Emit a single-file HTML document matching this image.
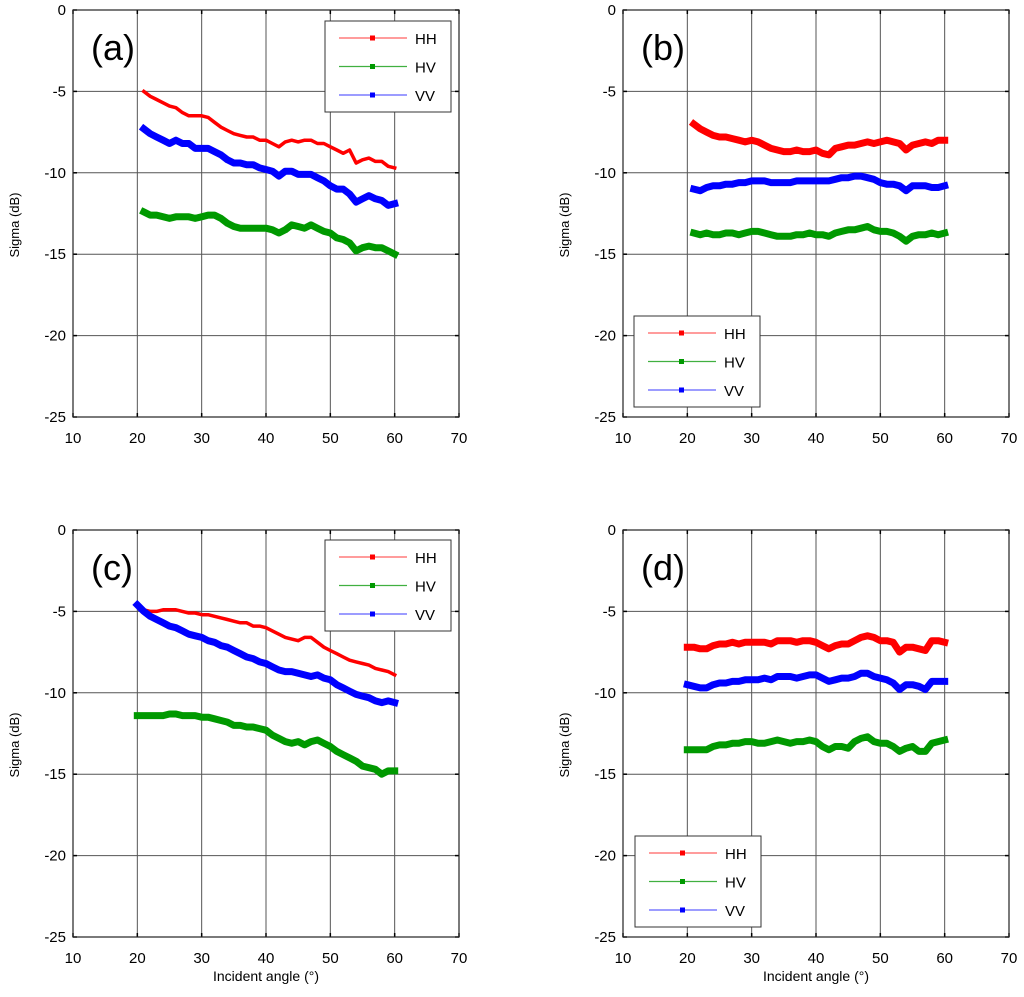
<!DOCTYPE html>
<html><head><meta charset="utf-8"><style>
html,body{margin:0;padding:0;background:#fff;}
svg{display:block;font-family:"Liberation Sans",Arial,sans-serif;}
</style></head><body>
<svg id="fig" width="1024" height="997" viewBox="0 0 1024 997" xmlns="http://www.w3.org/2000/svg"></svg>
<script>
const xTicks=[10,20,30,40,50,60,70];
const yTicks=[0,-5,-10,-15,-20,-25];
const xA=[21,22,23,24,25,26,27,28,29,30,31,32,33,34,35,36,37,38,39,40,41,42,43,44,45,46,47,48,49,50,51,52,53,54,55,56,57,58,59,60];
const xC=[20].concat(xA);
const aHH=[-5.0,-5.3,-5.5,-5.7,-5.9,-6.0,-6.3,-6.5,-6.5,-6.5,-6.6,-6.9,-7.2,-7.4,-7.6,-7.7,-7.8,-7.8,-8.0,-8.0,-8.2,-8.4,-8.1,-8.0,-8.1,-8.0,-8.0,-8.2,-8.2,-8.4,-8.6,-8.8,-8.6,-9.4,-9.2,-9.1,-9.3,-9.3,-9.6,-9.7];
const aVV=[-7.3,-7.6,-7.8,-8.0,-8.2,-8.0,-8.2,-8.2,-8.5,-8.5,-8.5,-8.7,-8.9,-9.2,-9.4,-9.4,-9.5,-9.5,-9.7,-9.8,-9.9,-10.2,-9.9,-9.9,-10.1,-10.1,-10.1,-10.3,-10.5,-10.8,-11.0,-11.0,-11.3,-11.8,-11.6,-11.4,-11.6,-11.7,-12.0,-11.9];
const aHV=[-12.4,-12.6,-12.6,-12.7,-12.8,-12.7,-12.7,-12.7,-12.8,-12.7,-12.6,-12.6,-12.8,-13.1,-13.3,-13.4,-13.4,-13.4,-13.4,-13.4,-13.5,-13.7,-13.5,-13.2,-13.3,-13.4,-13.2,-13.4,-13.6,-13.7,-14.0,-14.1,-14.3,-14.8,-14.6,-14.5,-14.6,-14.6,-14.8,-15.0];
const bHH=[-7.0,-7.3,-7.5,-7.7,-7.8,-7.8,-7.9,-8.0,-8.1,-8.0,-8.1,-8.3,-8.5,-8.6,-8.7,-8.7,-8.6,-8.7,-8.7,-8.6,-8.8,-8.9,-8.5,-8.4,-8.3,-8.3,-8.2,-8.1,-8.2,-8.1,-8.0,-8.1,-8.2,-8.6,-8.3,-8.2,-8.1,-8.2,-8.0,-8.0];
const bVV=[-11.0,-11.1,-10.9,-10.8,-10.8,-10.7,-10.7,-10.6,-10.6,-10.5,-10.5,-10.5,-10.6,-10.6,-10.6,-10.6,-10.5,-10.5,-10.5,-10.5,-10.5,-10.5,-10.4,-10.3,-10.3,-10.2,-10.2,-10.3,-10.4,-10.6,-10.7,-10.7,-10.8,-11.1,-10.8,-10.8,-10.8,-10.9,-10.9,-10.8];
const bHV=[-13.7,-13.8,-13.7,-13.8,-13.8,-13.7,-13.7,-13.8,-13.7,-13.6,-13.6,-13.7,-13.8,-13.9,-13.9,-13.9,-13.8,-13.8,-13.7,-13.8,-13.8,-13.9,-13.7,-13.6,-13.5,-13.5,-13.4,-13.3,-13.5,-13.6,-13.6,-13.7,-13.9,-14.2,-13.9,-13.8,-13.8,-13.7,-13.8,-13.7];
const cHH=[-4.7,-4.9,-5.0,-5.0,-4.9,-4.9,-4.9,-5.0,-5.1,-5.1,-5.2,-5.2,-5.3,-5.4,-5.5,-5.6,-5.7,-5.7,-5.9,-5.9,-6.0,-6.2,-6.4,-6.6,-6.7,-6.8,-6.6,-6.6,-6.9,-7.2,-7.4,-7.6,-7.8,-8.0,-8.1,-8.2,-8.3,-8.5,-8.6,-8.7,-8.9];
const cVV=[-4.6,-5.0,-5.3,-5.5,-5.7,-5.9,-6.0,-6.2,-6.4,-6.5,-6.6,-6.8,-6.9,-7.1,-7.2,-7.4,-7.6,-7.8,-7.9,-8.1,-8.2,-8.4,-8.6,-8.7,-8.7,-8.8,-8.9,-9.0,-8.9,-9.1,-9.2,-9.5,-9.7,-9.9,-10.1,-10.2,-10.3,-10.5,-10.6,-10.5,-10.6];
const cHV=[-11.4,-11.4,-11.4,-11.4,-11.4,-11.3,-11.3,-11.4,-11.4,-11.4,-11.5,-11.5,-11.6,-11.7,-11.8,-12.0,-12.0,-12.1,-12.1,-12.2,-12.3,-12.6,-12.8,-13.0,-13.1,-13.0,-13.2,-13.0,-12.9,-13.1,-13.3,-13.6,-13.8,-14.0,-14.2,-14.5,-14.6,-14.7,-15.0,-14.8,-14.8];
const dHH=[-7.2,-7.2,-7.3,-7.3,-7.1,-7.0,-7.0,-6.9,-7.0,-6.9,-6.9,-6.9,-6.9,-7.0,-6.8,-6.8,-6.8,-6.9,-6.8,-6.8,-6.9,-7.1,-7.3,-7.1,-7.0,-7.0,-6.8,-6.6,-6.5,-6.6,-6.8,-6.8,-6.9,-7.5,-7.2,-7.2,-7.3,-7.4,-6.8,-6.8,-6.9];
const dVV=[-9.5,-9.6,-9.7,-9.7,-9.5,-9.4,-9.4,-9.3,-9.3,-9.2,-9.2,-9.2,-9.1,-9.2,-9.0,-9.0,-9.0,-9.1,-9.0,-8.9,-8.9,-9.1,-9.3,-9.2,-9.1,-9.1,-9.0,-8.8,-8.8,-9.0,-9.1,-9.2,-9.4,-9.8,-9.5,-9.5,-9.6,-9.8,-9.3,-9.3,-9.3];
const dHV=[-13.5,-13.5,-13.5,-13.5,-13.3,-13.2,-13.2,-13.1,-13.1,-13.0,-13.0,-13.1,-13.1,-13.0,-12.9,-13.0,-13.1,-13.0,-13.0,-12.9,-13.0,-13.3,-13.5,-13.3,-13.3,-13.4,-13.0,-12.8,-12.7,-13.0,-13.1,-13.1,-13.3,-13.6,-13.4,-13.3,-13.6,-13.6,-13.1,-13.0,-12.9];
const seriesNames=["HH","HV","VV"];

const NS="http://www.w3.org/2000/svg";
const svg=document.getElementById('fig');
function mk(tag,attrs,parent){const e=document.createElementNS(NS,tag);for(const k in attrs)e.setAttribute(k,attrs[k]);(parent||svg).appendChild(e);return e;}
const colors={HH:"#ff0000",HV:"#009900",VV:"#0000ff"};
const lcolors={HH:"#ff6060",HV:"#40b040",VV:"#6060ff"};

function panel(id,L,T,label,xs,data,thinHH,leg,showX){
  const R=L+386,B=T+407;
  const sx=v=>L+(v-10)/60*(R-L);
  const sy=v=>T+(0-v)/25*(B-T);
  const g=mk('g',{});
  
  
  mk('rect',{x:L,y:T,width:R-L,height:B-T,fill:'#fff'},g);
  xTicks.forEach(t=>{
    const l=mk('line',{x1:sx(t),x2:sx(t),y1:T,y2:B,stroke:'#555','stroke-width':1},g);
    
    mk('line',{x1:sx(t),x2:sx(t),y1:T,y2:T+4,stroke:'#000','stroke-width':1.5},g);
    mk('line',{x1:sx(t),x2:sx(t),y1:B,y2:B-4,stroke:'#000','stroke-width':1.5},g);
    const tx=mk('text',{x:sx(t),y:B+26,'font-size':15,'text-anchor':'middle',fill:'#000'},g);
    tx.textContent=t;
  });
  yTicks.forEach(t=>{
    const l=mk('line',{x1:L,x2:R,y1:sy(t),y2:sy(t),stroke:'#555','stroke-width':1},g);
    
    mk('line',{x1:L,x2:L+4,y1:sy(t),y2:sy(t),stroke:'#000','stroke-width':1.5},g);
    mk('line',{x1:R,x2:R-4,y1:sy(t),y2:sy(t),stroke:'#000','stroke-width':1.5},g);
    const tx=mk('text',{x:L-7,y:sy(t)+5,'font-size':15,'text-anchor':'end',fill:'#000'},g);
    tx.textContent=t;
  });
  mk('rect',{x:L,y:T,width:R-L,height:B-T,fill:'none',stroke:'#222','stroke-width':1.2},g);
  const yl=mk('text',{x:0,y:0,'font-size':13,'text-anchor':'middle',transform:`translate(${L-54},${T+215}) rotate(-90)`},g);
  yl.textContent='Sigma (dB)';
  if(showX){const xl=mk('text',{x:(L+R)/2,y:B+44,'font-size':14,'text-anchor':'middle'},g);
    xl.textContent='Incident angle (°)';}
  const pl=mk('text',{x:L+18,y:T+50,'font-size':36},g);
  pl.textContent='('+label+')';
  seriesNames.forEach((n,i)=>{
    const vals=data[i];
    const pts=vals.map((v,j)=>sx(xs[j]).toFixed(1)+','+sy(v).toFixed(1)).join(' ');
    const thin=thinHH&&n==="HH";
    const p=mk('polyline',{points:pts,fill:'none',stroke:colors[n],'stroke-width':thin?3.5:7,'stroke-linejoin':'round','stroke-linecap':'square'},g);
    
  });
  const lg=mk('g',{},g);
  
  mk('rect',{x:leg[0],y:leg[1],width:126,height:91,fill:'#fff',stroke:'#333','stroke-width':1},lg);
  seriesNames.forEach((n,i)=>{
    const y=leg[1]+17+i*28.5;
    mk('line',{x1:leg[0]+14,x2:leg[0]+82,y1:y,y2:y,stroke:lcolors[n],'stroke-width':1.3},lg);
    mk('rect',{x:leg[0]+45,y:y-2.5,width:5,height:5,fill:colors[n]},lg);
    const t=mk('text',{x:leg[0]+90,y:y+6,'font-size':15},lg);
    t.textContent=n;
  });
}
panel('a',73,10,'a',xA,[aHH,aHV,aVV],true,[325,21],false);
panel('b',623,10,'b',xA,[bHH,bHV,bVV],false,[634,316],false);
panel('c',73,530,'c',xC,[cHH,cHV,cVV],true,[325,540],true);
panel('d',623,530,'d',xC,[dHH,dHV,dVV],false,[635,836],true);
</script>
</body></html>
